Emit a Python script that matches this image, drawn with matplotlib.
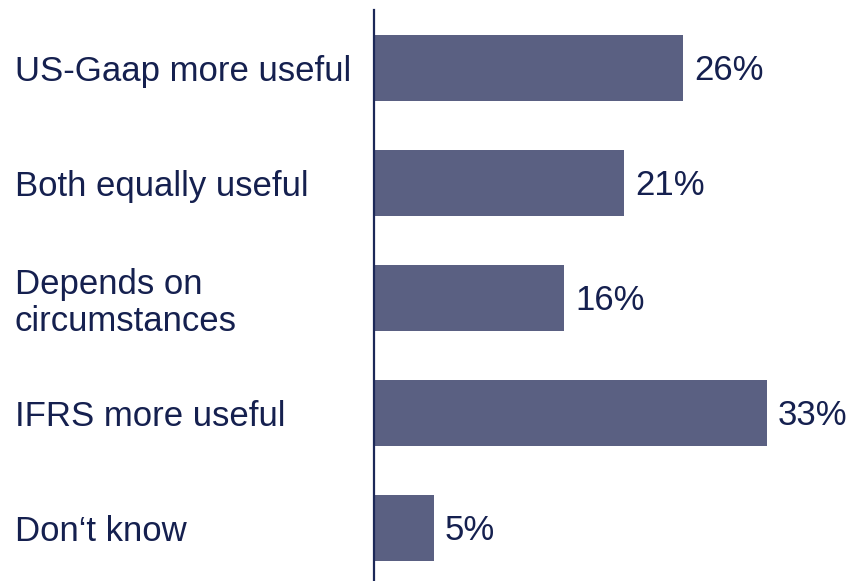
import matplotlib
matplotlib.use("Agg")
import matplotlib.pyplot as plt

plt.rcParams['font.family'] = ['Liberation Sans', 'DejaVu Sans']

categories = ["US-Gaap more useful", "Both equally useful", "Depends on\ncircumstances",
              "IFRS more useful", "Don\u2018t know"]
values = [26, 21, 16, 33, 5]
value_labels = ["26%", "21%", "16%", "33%", "5%"]

bar_color = "#5A6082"
text_color = "#15204F"
line_color = "#1C2858"

fig = plt.figure(figsize=(8.47, 5.81), dpi=100)
left = 374 / 847
ax = fig.add_axes([left, 0, 1 - left, (581 - 10) / 581])

pos = list(range(len(categories)))
ax.barh(pos, values, height=0.566, color=bar_color)

for p, v, lab in zip(pos, values, value_labels):
    ax.annotate(lab, (v, p), xytext=(8, -2), textcoords="offset points",
                va="center", ha="left", fontsize=25, color=text_color)

ax.set_xlim(0, (847 - 374) / 11.9)
ax.set_ylim(4.461, -0.504)

ax.set_yticks(pos)
ax.set_yticklabels(categories, fontsize=25, color=text_color, ha="left", linespacing=1.15)
ax.tick_params(axis="y", length=0, pad=(374 - 15) * 0.72)
ax.set_xticks([])

for s in ["top", "right", "bottom"]:
    ax.spines[s].set_visible(False)
ax.spines["left"].set_color(line_color)
ax.spines["left"].set_linewidth(1.6)

fig.savefig("out.png", dpi=100)
